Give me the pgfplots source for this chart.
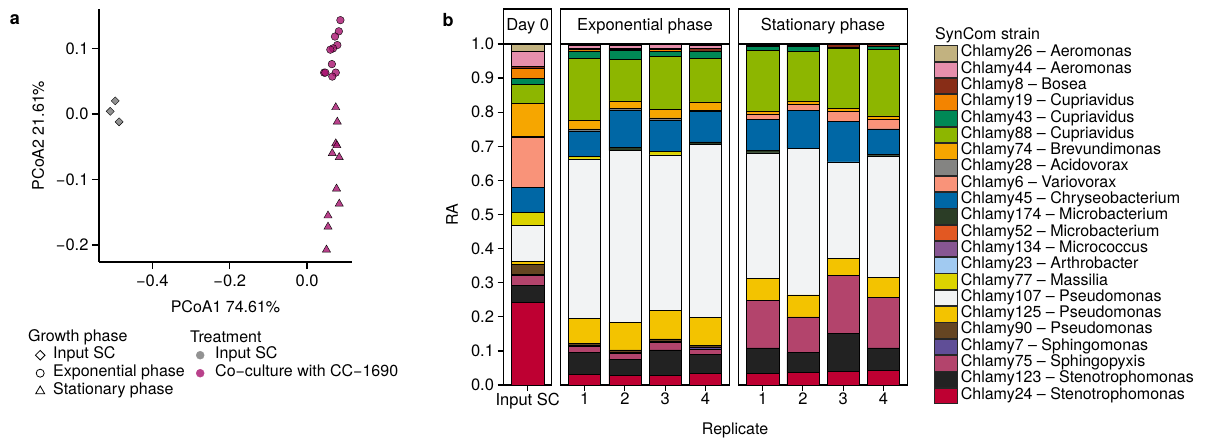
\documentclass[border=0pt]{standalone}
\usepackage{fontspec}
\setmainfont{TeX Gyre Heros}
\usepackage{pgfplots}
\usepackage{pgfplotstable}
\pgfplotsset{compat=1.18}

\newcommand{\fs}[1]{\fontsize{#1pt}{#1pt}\selectfont}

\definecolor{c26}{HTML}{C2B280}
\definecolor{c44}{HTML}{E68FAC}
\definecolor{c8}{HTML}{882D17}
\definecolor{c19}{HTML}{F38400}
\definecolor{c43}{HTML}{008856}
\definecolor{c88}{HTML}{8DB600}
\definecolor{c74}{HTML}{F6A600}
\definecolor{c28}{HTML}{848482}
\definecolor{c6}{HTML}{F99379}
\definecolor{c45}{HTML}{0067A5}
\definecolor{c174}{HTML}{2B3D26}
\definecolor{c52}{HTML}{E25822}
\definecolor{c134}{HTML}{875692}
\definecolor{c23}{HTML}{A1CAF1}
\definecolor{c77}{HTML}{DCD300}
\definecolor{c107}{HTML}{F2F3F4}
\definecolor{c125}{HTML}{F3C300}
\definecolor{c90}{HTML}{654522}
\definecolor{c7}{HTML}{604E97}
\definecolor{c75}{HTML}{B3446C}
\definecolor{c123}{HTML}{222222}
\definecolor{c24}{HTML}{BE0032}
\definecolor{coc}{HTML}{A8126E}
\definecolor{insc}{HTML}{777777}
\definecolor{cocl}{HTML}{B9418B}
\definecolor{inscl}{HTML}{929292}

% ---------- panel a data ----------
\pgfplotstableread{
x y
-0.496 0.020
-0.509 0.004
-0.486 -0.012
}\inputsc
\pgfplotstableread{
x y
0.086 0.143
0.082 0.126
0.072 0.118
0.078 0.105
0.067 0.100
0.060 0.098
0.064 0.076
0.044 0.063
0.047 0.063
0.074 0.063
0.065 0.057
}\expo
\pgfplotstableread{
x y
0.074 0.010
0.078 -0.012
0.074 -0.045
0.077 -0.048
0.065 -0.060
0.083 -0.066
0.076 -0.114
0.083 -0.137
0.054 -0.155
0.054 -0.172
0.050 -0.207
}\stat

% ---------- panel b data ----------
\pgfplotstableread{
x s24 s123 s75 s7 s90 s125 s107 s77 s23 s134 s52 s174 s45 s6 s28 s74 s88 s43 s19 s8 s44 s26
1 0.242 0.051 0.028 0.003 0.031 0.007 0.106 0.039 0 0 0 0 0.074 0.146 0.003 0.097 0.055 0.019 0.027 0.007 0.044 0.021
}\dayzero
\pgfplotstableread{
x s24 s123 s75 s7 s90 s125 s107 s77 s23 s134 s52 s174 s45 s6 s28 s74 s88 s43 s19 s8 s44 s26
1 0.031 0.064 0.019 0.003 0.005 0.074 0.467 0.008 0 0 0 0 0.074 0 0.006 0.024 0.183 0.022 0.004 0.004 0.007 0.005
2 0.029 0.047 0.017 0.003 0.007 0.081 0.503 0 0 0 0 0.010 0.109 0 0.005 0.022 0.123 0.026 0.002 0.003 0.009 0.004
3 0.029 0.074 0.022 0.003 0.007 0.083 0.457 0.010 0 0 0 0 0.090 0 0.008 0.026 0.154 0.015 0.007 0.003 0.010 0.002
4 0.034 0.056 0.015 0.005 0.007 0.081 0.508 0 0 0 0 0.007 0.089 0 0.004 0.024 0.128 0.022 0 0.007 0.008 0.005
}\expphase
\pgfplotstableread{
x s24 s123 s75 s7 s90 s125 s107 s77 s23 s134 s52 s174 s45 s6 s28 s74 s88 s43 s19 s8 s44 s26
1 0.034 0.075 0.140 0 0 0.064 0.368 0 0 0 0 0.006 0.092 0.016 0 0.009 0.178 0.010 0 0.004 0 0.004
2 0.037 0.058 0.105 0 0 0.064 0.430 0 0 0 0 0 0.112 0.018 0 0.009 0.145 0.015 0 0.004 0.002 0.001
3 0.039 0.113 0.169 0 0 0.050 0.283 0 0 0 0 0 0.120 0.028 0 0.009 0.176 0.003 0 0.008 0 0.002
4 0.042 0.067 0.148 0 0 0.059 0.356 0 0 0 0 0.005 0.074 0.028 0 0.010 0.195 0.008 0 0.006 0 0.002
}\statphase

\newcommand{\stackbars}[1]{%
  \pgfplotsinvokeforeach{24,123,75,7,90,125,107,77,23,134,52,174,45,6,28,74,88,43,19,8,44,26}{%
    \addplot[fill=c##1, draw=black, line width=0.5pt] table[x=x, y=s##1] {#1};
  }%
}

\pgfplotsset{
  bpanel/.style={
    ybar stacked, bar width=0.8, scale only axis, height=341pt, ymin=0, ymax=1,
    xmin=0.4, anchor=south west, clip=false,
    axis line style={line width=1.2pt},
    tick style={line width=1.2pt, black},
    tick align=outside, major tick length=6pt,
    xtick pos=left, ytick pos=left,
    ticklabel style={font=\fs{16.5}},
    xticklabel style={inner sep=2pt},
  },
  marklegend/.style={
    hide axis, scale only axis, width=1pt, height=1pt, anchor=south west,
    xmin=0, xmax=1, ymin=0, ymax=1,
    legend style={at={(0,0)}, anchor=north west, draw=none, fill=none, inner sep=0pt,
      font=\fs{16}, row sep=0pt, column sep=#1,
      nodes={inner sep=0pt, text height=12.5pt, text depth=5.5pt}},
    legend cell align=left,
    legend image code/.code={\path[draw=none, fill=none] (0pt,-5pt) rectangle (12pt,5pt);
      \draw[mark repeat=2, mark phase=2, ##1] plot coordinates {(0pt,0pt) (6pt,0pt) (12pt,0pt)};},
  },
}

\begin{document}
\begin{tikzpicture}
\path[use as bounding box] (0,0) rectangle (1206pt,439pt);

% ================= panel a =================
\begin{axis}[
  at={(99pt,177pt)}, anchor=south west, scale only axis, width=253pt, height=253pt,
  xmin=-0.538, xmax=0.116, ymin=-0.2257, ymax=0.160,
  axis x line*=bottom, axis y line*=left,
  axis line style={line width=1.3pt},
  tick style={line width=1.3pt, black},
  tick align=outside, major tick length=7pt,
  xtick={-0.4,-0.2,0}, xticklabels={−0.4,−0.2,0.0},
  ytick={-0.2,-0.1,0,0.1}, yticklabels={−0.2,−0.1,0.0,0.1},
  ticklabel style={font=\fs{16.5}},
  xticklabel style={yshift=-2pt},
  xlabel={PCoA1 74.61\%}, ylabel={PCoA2 21.61\%},
  label style={font=\fs{16}},
  xlabel style={at={(axis description cs:0.5,-0.178)}, anchor=center},
  ylabel style={at={(axis description cs:-0.241,0.5)}, anchor=center},
  clip=false,
]
\addplot[only marks, mark=square*, mark size=2.85pt,
  mark options={rotate=45, fill=insc, draw=none, fill opacity=0.8}] table {\inputsc};
\addplot[only marks, mark=*, mark size=3.8pt,
  mark options={fill=coc, draw=none, fill opacity=0.8}] table {\expo};
\addplot[only marks, mark=triangle*, mark size=4.7pt,
  mark options={fill=coc, draw=none, fill opacity=0.8}] table {\stat};
\end{axis}

\node[font=\fs{18}\bfseries] at (15pt,419pt) {a};
\node[font=\fs{18}\bfseries] at (448pt,419pt) {b};

% legend a : growth phase
\node[anchor=west, font=\fs{16}, inner sep=0pt] at (28pt,102pt) {Growth phase};
\begin{axis}[marklegend=7pt, at={(34pt,93pt)}]
\addlegendimage{only marks, mark=square, mark size=3.4pt, mark options={rotate=45, draw=black, line width=0.8pt}}
\addlegendentry{Input SC}
\addlegendimage{only marks, mark=o, mark size=4pt, mark options={draw=black, line width=0.8pt}}
\addlegendentry{Exponential phase}
\addlegendimage{only marks, mark=triangle, mark size=5.2pt, mark options={draw=black, line width=0.8pt}}
\addlegendentry{Stationary phase}
\end{axis}

% legend a : treatment
\node[anchor=west, font=\fs{16}, inner sep=0pt] at (190pt,102pt) {Treatment};
\begin{axis}[marklegend=9pt, at={(194pt,93pt)}]
\addlegendimage{only marks, mark=*, mark size=4pt, color=inscl, mark options={fill=inscl, draw=inscl}}
\addlegendentry{Input SC}
\addlegendimage{only marks, mark=*, mark size=4pt, color=cocl, mark options={fill=cocl, draw=cocl}}
\addlegendentry{Co−culture with CC−1690}
\end{axis}

% ================= panel b =================
\begin{axis}[bpanel, name=pd, at={(503.5pt,54pt)}, width=48.3pt, xmax=1.6,
  xtick={1}, xticklabels={Input SC},
  ytick={0,0.1,0.2,0.3,0.4,0.5,0.6,0.7,0.8,0.9,1},
  yticklabels={0.0,0.1,0.2,0.3,0.4,0.5,0.6,0.7,0.8,0.9,1.0},
  ylabel={RA}, ylabel style={font=\fs{16}, at={(axis description cs:-1.066,0.5)}, anchor=center},
]
\stackbars{\dayzero}
\end{axis}

\begin{axis}[bpanel, name=pe, at={(560.5pt,54pt)}, width=169pt, xmax=4.6,
  xtick={1,2,3,4}, xticklabels={1,2,3,4}, ytick=\empty,
]
\stackbars{\expphase}
\end{axis}

\begin{axis}[bpanel, name=ps, at={(738.5pt,54pt)}, width=169pt, xmax=4.6,
  xtick={1,2,3,4}, xticklabels={1,2,3,4}, ytick=\empty,
  reverse legend,
  legend style={at={(axis description cs:1.157,0.997)}, anchor=north west, draw=none, fill=none,
    inner sep=0pt, font=\fs{16}, row sep=0pt, column sep=3pt,
    nodes={inner sep=0pt, text height=11.6pt, text depth=4.7pt}},
  legend cell align=left,
  legend image code/.code={\draw[#1, draw=black!85, line width=0.6pt] (0pt,-7.8pt) rectangle (23pt,7.8pt);},
]
\stackbars{\statphase}
\legend{Chlamy24 – Stenotrophomonas, Chlamy123 – Stenotrophomonas, Chlamy75 – Sphingopyxis,
  Chlamy7 – Sphingomonas, Chlamy90 – Pseudomonas, Chlamy125 – Pseudomonas, Chlamy107 – Pseudomonas,
  Chlamy77 – Massilia, Chlamy23 – Arthrobacter, Chlamy134 – Micrococcus, Chlamy52 – Microbacterium,
  Chlamy174 – Microbacterium, Chlamy45 – Chryseobacterium, Chlamy6 – Variovorax, Chlamy28 – Acidovorax,
  Chlamy74 – Brevundimonas, Chlamy88 – Cupriavidus, Chlamy43 – Cupriavidus, Chlamy19 – Cupriavidus,
  Chlamy8 – Bosea, Chlamy44 – Aeromonas, Chlamy26 – Aeromonas}
\end{axis}

% facet strips
\foreach \ax/\lab in {pd/Day 0, pe/Exponential phase, ps/Stationary phase}{
  \draw[line width=1.2pt, fill=white] (\ax.north west) rectangle ([yshift=35pt]\ax.north east);
  \node[font=\fs{16.5}] at ([yshift=17.5pt]\ax.north) {\lab};
}

\node[anchor=west, font=\fs{16}, inner sep=0pt] at (935pt,404pt) {SynCom strain};
\node[font=\fs{16}] at (735pt,9pt) {Replicate};
\end{tikzpicture}
\end{document}
